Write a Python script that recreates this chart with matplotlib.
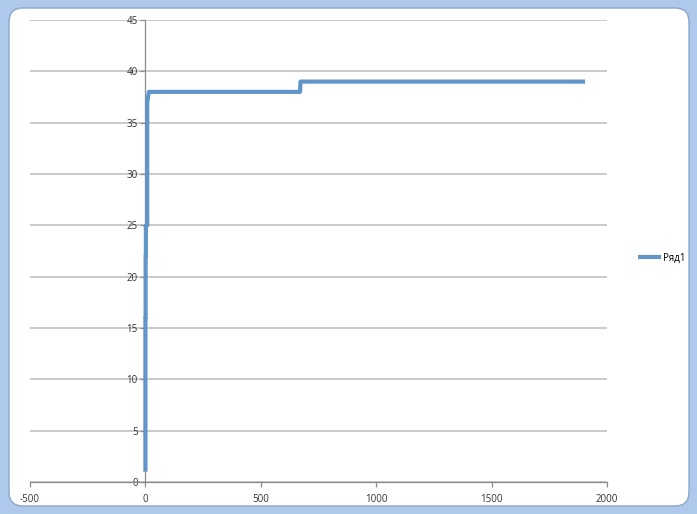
import matplotlib.pyplot as plt
import matplotlib.transforms as mtransforms
from matplotlib.patches import FancyBboxPatch

plt.rcParams.update({'font.family': ['Open Sans', 'DejaVu Sans'], 'font.size': 7,
                     'axes.unicode_minus': False})

# series "Ряд1" (scatter with straight lines)
x_vals = [0, 0, 1, 1, 2, 2, 8, 8, 15, 670, 672, 1905]
y_vals = [1, 16, 16, 22, 22, 25, 25, 37, 38, 38, 39, 39]
series_name = 'Ряд1'

x_ticks = [-500, 0, 500, 1000, 1500, 2000]
y_ticks = [0, 5, 10, 15, 20, 25, 30, 35, 40, 45]

W, H = 697, 514
fig = plt.figure(figsize=(W / 100, H / 100), dpi=100)
fig.patch.set_facecolor('#AFC9EC')

# white chart area with rounded corners (Excel chart frame)
frame = FancyBboxPatch((9, 8), 680, 498, boxstyle='round,pad=0,rounding_size=14',
                       transform=mtransforms.IdentityTransform(),
                       facecolor='white', edgecolor='#8AA6CC', linewidth=1.0, zorder=-10)
fig.patches.append(frame)

ax = fig.add_axes([30 / W, (H - 482) / H, (607 - 30) / W, (482 - 20) / H])
ax.set_facecolor('none')
ax.set_zorder(5)

ax.plot(x_vals, y_vals, color='#5F95C9', linewidth=3.0, solid_capstyle='butt',
        solid_joinstyle='round', label=series_name, zorder=3)

ax.set_xlim(-500, 2000)
ax.set_ylim(0, 45)
ax.set_xticks(x_ticks)
ax.set_yticks(y_ticks)
ax.yaxis.grid(True, color='#C6C6C6', linewidth=1.3)
ax.xaxis.grid(False)
ax.set_axisbelow(True)

for side in ['top', 'right']:
    ax.spines[side].set_visible(False)
ax.spines['left'].set_position(('data', 0))
ax.spines['bottom'].set_position(('data', 0))
for side in ['left', 'bottom']:
    ax.spines[side].set_color('#8C8C8C')
    ax.spines[side].set_linewidth(0.9)
ax.tick_params(axis='both', colors='#8C8C8C', labelcolor='#333333', length=3.5,
               width=0.9, labelsize=7, direction='out')
ax.tick_params(axis='y', pad=2)
ax.tick_params(axis='x', pad=5)

ax.legend(loc='center left', bbox_to_anchor=((633 - 30) / (607 - 30), 0.485),
          frameon=False, handlelength=2.4, handletextpad=0.15, borderpad=0,
          fontsize=7)

plt.savefig('out.png', dpi=100, facecolor=fig.get_facecolor())
